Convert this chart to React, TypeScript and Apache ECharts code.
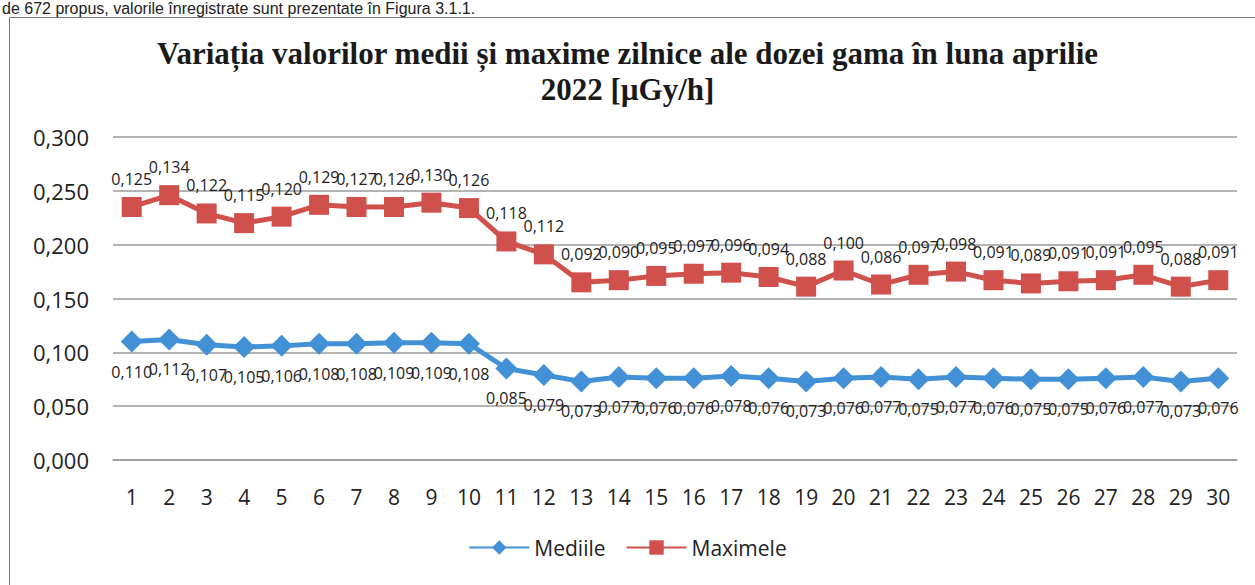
import React, { useEffect, useRef } from "react";
import * as echarts from "echarts";

const days = Array.from({ length: 30 }, (_, i) => String(i + 1));
const mediile = [0.110, 0.112, 0.107, 0.105, 0.106, 0.108, 0.108, 0.109, 0.109, 0.108, 0.085, 0.079, 0.073, 0.077, 0.076, 0.076, 0.078, 0.076, 0.073, 0.076, 0.077, 0.075, 0.077, 0.076, 0.075, 0.075, 0.076, 0.077, 0.073, 0.076];
const maximele = [0.125, 0.134, 0.122, 0.115, 0.120, 0.129, 0.127, 0.126, 0.130, 0.126, 0.118, 0.112, 0.092, 0.090, 0.095, 0.097, 0.096, 0.094, 0.088, 0.100, 0.086, 0.097, 0.098, 0.091, 0.089, 0.091, 0.091, 0.095, 0.088, 0.091];
const titleText = "Variația valorilor medii și maxime zilnice ale dozei gama în luna aprilie\n2022 [µGy/h]";
const topText = "de 672 propus, valorile înregistrate sunt prezentate în Figura 3.1.1.";

const fmt = (v: number) => v.toFixed(3).replace(".", ",");
const BLUE = "#4290d6";
const RED = "#d0504c";

export default function App() {
  const ref = useRef<HTMLDivElement>(null);
  useEffect(() => {
    const chart = echarts.init(ref.current!, null, { renderer: "svg" });
    chart.setOption({
      animation: false,
      backgroundColor: "#ffffff",
      title: {
        text: titleText,
        left: "center",
        top: 30,
        textStyle: {
          fontFamily: "Liberation Serif",
          fontWeight: "bold",
          fontSize: 31,
          lineHeight: 36,
          color: "#1a1a1a",
        },
      },
      graphic: [
        {
          type: "text",
          left: 2,
          top: 0,
          style: { text: topText, font: "16px 'Liberation Sans'", fill: "#222" },
        },
        {
          type: "rect",
          shape: { x: 9.5, y: 17.5, width: 1260, height: 600 },
          style: { fill: "none", stroke: "#777", lineWidth: 1 },
        },
      ],
      legend: {
        bottom: 22,
        left: "center",
        itemWidth: 60,
        itemHeight: 18,
        itemGap: 20,
        textStyle: { fontFamily: "Open Sans", fontSize: 21, color: "#222" },
        data: ["Mediile", "Maximele"],
      },
      grid: { left: 113, right: 18, top: 137, bottom: 125 },
      xAxis: {
        type: "category",
        data: days,
        boundaryGap: true,
        axisLine: { show: true, lineStyle: { color: "#9a9a9a", width: 1.5 } },
        axisTick: { show: false },
        axisLabel: { margin: 26, fontFamily: "Open Sans", fontSize: 21, color: "#222" },
      },
      yAxis: {
        type: "value",
        min: 0,
        max: 0.3,
        interval: 0.05,
        axisLine: { show: false },
        axisTick: { show: false },
        splitLine: { lineStyle: { color: "#9a9a9a", width: 1.5 } },
        axisLabel: { margin: 24, formatter: (v: number) => fmt(v), fontFamily: "Open Sans", fontSize: 22, color: "#222" },
      },
      series: [
        {
          name: "Mediile",
          type: "line",
          stack: "total",
          data: mediile,
          symbol: "diamond",
          symbolSize: 22,
          color: BLUE,
          lineStyle: { width: 5, color: BLUE },
          itemStyle: { color: BLUE },
          label: {
            show: true,
            position: "bottom",
            distance: 11,
            formatter: (p: any) => fmt(p.value),
            fontFamily: "Open Sans",
            fontSize: 16,
            color: "#222",
          },
        },
        {
          name: "Maximele",
          type: "line",
          stack: "total",
          data: maximele,
          symbol: "rect",
          symbolSize: 20,
          color: RED,
          lineStyle: { width: 5, color: RED },
          itemStyle: { color: RED },
          label: {
            show: true,
            position: "top",
            distance: 10,
            formatter: (p: any) => fmt(p.value),
            fontFamily: "Open Sans",
            fontSize: 16,
            color: "#222",
          },
        },
      ],
    });
    return () => chart.dispose();
  }, []);
  return (
    <div
      ref={ref}
      style={{ position: "absolute", left: 0, top: 0, width: 1255, height: 585 }}
    />
  );
}
